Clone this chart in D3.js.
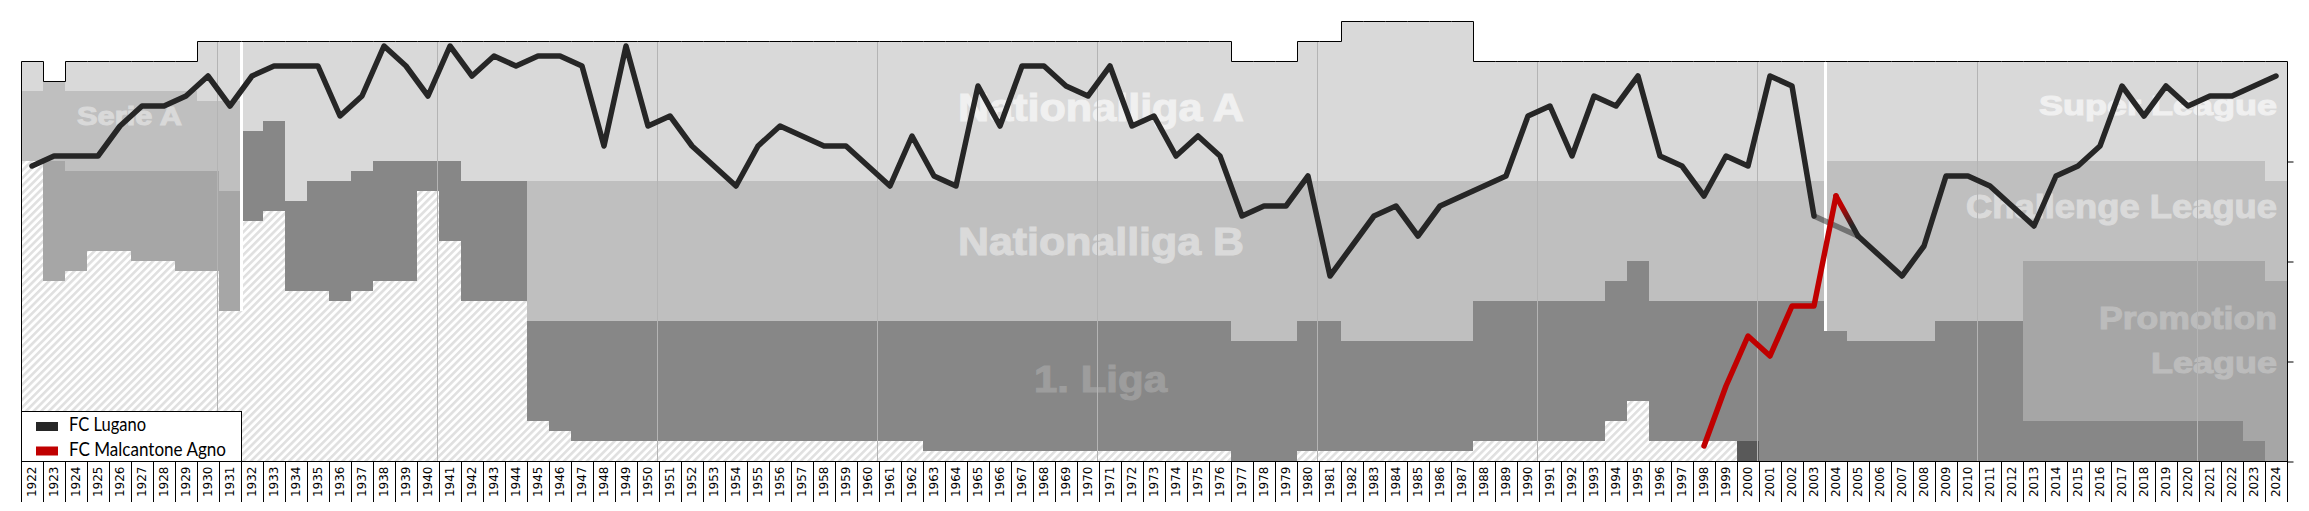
<!DOCTYPE html>
<html>
<head>
<meta charset="utf-8">
<script src="https://cdn.jsdelivr.net/npm/d3@7"></script>
<style>
  body { margin: 0; background: #fff; }
  svg { display: block; }
</style>
</head>
<body>
<script>
// seasons on the x axis (season ending in that year)
var years = d3.range(1922, 2025);

// FC Lugano: place counted from the top row of the chart
// (all leagues stacked, so 2nd in the top league with 4 empty rows above = 6)
var luganoRank = [15, 14, 14, 14, 11, 9, 9, 8, 6, 9,    // 1922-1931
    6, 5, 5, 5, 10, 8, 3, 5, 8, 3,                       // 1932-1941
    6, 4, 5, 4, 4, 5, 13, 3, 11, 10,                     // 1942-1951
    13, 15, 17, 13, 11, 12, 13, 13, 15, 17,              // 1952-1961
    12, 16, 17, 7, 11, 5, 5, 7, 8, 5,                    // 1962-1971
    11, 10, 14, 12, 14, 20, 19, 19, 16, 26,              // 1972-1981
    23, 20, 19, 22, 19, 18, 17, 16, 10, 9,               // 1982-1991
    14, 8, 9, 6, 14, 15, 18, 14, 15, 6,                  // 1992-2001
    7, 20, null, 22, 24, 26, 23, 16, 16, 17,             // 2002-2011
    19, 21, 16, 15, 13, 7, 10, 7, 9, 8,                  // 2012-2021
    8, 7, 6];                                            // 2022-2024

// FC Malcantone Agno
var agnoYears = [1998, 1999, 2000, 2001, 2002, 2003, 2004];
var agnoRank = [43, 37, 32, 34, 29, 29, 18];

// league structure, one entry per period where it stays the same
// first row of the top league and the clubs per division, top to bottom
// A = top league, B = second league, P = Serie Promotion / Promotion League,
// L = 1. Liga, D = lower regional group
var periodFrom = [1922, 1923, 1924, 1925, 1927, 1929, 1930, 1931,
    1932, 1933, 1934, 1935, 1936, 1937, 1938, 1940, 1941, 1942,
    1945, 1946, 1947, 1963, 1977, 1980, 1982,
    1988, 1994, 1995, 1996, 2000, 2001,
    2004, 2005, 2009, 2013, 2023, 2024];
var periodFirstRow = [4, 6, 4, 4, 4, 4, 2, 2,
    2, 2, 2, 2, 2, 2, 2, 2, 2, 2,
    2, 2, 2, 2, 4, 2, 0,
    4, 4, 4, 4, 4, 4,
    4, 4, 4, 4, 4, 4];
var periodLeagues = [
    "A3 B7", "B8 P12", "A3 B8 P10", "A3 B8 P8", "A3 B8 P9", "A3 B8 P10", "A6 B7 P10", "A6 B9 P12",
    "A9 L9", "A8 L9", "A16 L9", "A14 L11", "A14 L12", "A13 L12", "A12 L12", "A12 L3", "A12 L8", "A14 L12",
    "A14 B14 L10", "A14 B14 L11", "A14 B14 L12", "A14 B14 L13", "A12 B16 L12", "A14 B14 L13", "A16 B16 L11",
    "A12 B12 L14", "A12 B10 L14", "A12 B8 L14", "A12 B12 L14", "A12 B12 L14 D2", "A12 B12 L16",
    "A10 B17 L13", "A10 B18 L12", "A10 B16 L14", "A10 B10 P16 L4", "A10 B10 P18 L2", "A12 B10 P18"];

// league restructurings (white separator) and how deep they reach
var breakYears = [1932, 2004];
var breakDepth = [29, 31];

var leagueNames = ["Serie A", "Nationalliga A", "Nationalliga B", "1. Liga",
    "Super League", "Challenge League", "Promotion", "League"];
var seriesNames = ["FC Lugano", "FC Malcantone Agno"];
var rankTicks = [14, 24, 34, 44];

var W = 2309, H = 511;
var colors = {A: "#d9d9d9", B: "#bfbfbf", P: "#a6a6a6", L: "#878787", D: "#595959"};

var x = d3.scaleBand().domain(years).range([21, 2287]);
var y = d3.scaleLinear().domain([0, 44]).range([21, 461]);

var svg = d3.select("body").append("svg")
    .attr("width", W)
    .attr("height", H);

var defs = svg.append("defs");
var hatch = defs.append("pattern")
    .attr("id", "hatch")
    .attr("patternUnits", "userSpaceOnUse")
    .attr("width", 5.4)
    .attr("height", 5.4)
    .attr("patternTransform", "rotate(45)");
hatch.append("rect").attr("width", 5.4).attr("height", 5.4).attr("fill", "#fff");
hatch.append("rect").attr("width", 2.6).attr("height", 5.4).attr("fill", "#e0e0e0");

// work out the bands of every season
var seasons = years.map(function(yr) {
    var p = d3.bisectRight(periodFrom, yr) - 1;
    var row = periodFirstRow[p];
    var bands = periodLeagues[p].split(" ").map(function(s) {
        var n = +s.slice(1);
        var b = {key: s[0], from: row, to: row + n};
        row += n;
        return b;
    });
    return {year: yr, top: periodFirstRow[p], bands: bands};
});

// lower leagues: hatched
svg.append("g").selectAll("rect")
    .data(seasons)
    .enter()
    .append("rect")
    .attr("x", function(d) { return x(d.year); })
    .attr("width", x.bandwidth())
    .attr("y", function(d) { return y(d.top); })
    .attr("height", function(d) { return y(44) - y(d.top); })
    .attr("fill", "url(#hatch)")
    .attr("shape-rendering", "crispEdges");

var bandData = [];
seasons.forEach(function(s) {
    s.bands.forEach(function(b) {
        bandData.push({year: s.year, key: b.key, from: b.from, to: Math.min(b.to, 44)});
    });
});

svg.append("g").selectAll("rect")
    .data(bandData)
    .enter()
    .append("rect")
    .attr("x", function(d) { return x(d.year); })
    .attr("width", x.bandwidth())
    .attr("y", function(d) { return y(d.from); })
    .attr("height", function(d) { return y(d.to) - y(d.from); })
    .attr("fill", function(d) { return colors[d.key]; })
    .attr("shape-rendering", "crispEdges");

// league names
var labelStyle = [
    {x: 77, w: 105, y: 125, size: 25.6, fill: "#d9d9d9"},
    {x: 958, w: 286, y: 120.7, size: 38, fill: "#f0f0f0"},
    {x: 958, w: 286, y: 255, size: 38, fill: "#dadada"},
    {x: 1034, w: 133, y: 391.7, size: 37, fill: "#9d9d9d"},
    {x: 2039, w: 238, y: 115, size: 28, fill: "#f0f0f0"},
    {x: 1966, w: 311, y: 218.3, size: 32.5, fill: "#dadada"},
    {x: 2099, w: 178, y: 329, size: 31, fill: "#bcbcbc"},
    {x: 2151, w: 126, y: 373.3, size: 30, fill: "#bcbcbc"}
];
svg.append("g").selectAll("text")
    .data(leagueNames)
    .enter()
    .append("text")
    .attr("x", function(d, i) { return labelStyle[i].x; })
    .attr("y", function(d, i) { return labelStyle[i].y; })
    .attr("textLength", function(d, i) { return labelStyle[i].w; })
    .attr("lengthAdjust", "spacingAndGlyphs")
    .style("font-family", "'Liberation Sans', Arial, sans-serif")
    .style("font-weight", "bold")
    .style("font-size", function(d, i) { return labelStyle[i].size + "px"; })
    .style("fill", function(d, i) { return labelStyle[i].fill; })
    .style("stroke", function(d, i) { return labelStyle[i].fill; })
    .style("stroke-width", 1.1)
    .text(function(d) { return d; });

// decade grid lines
var gridYears = years.filter(function(yr) { return yr % 10 == 1 && yr > 1922; });
svg.append("g").selectAll("line")
    .data(gridYears)
    .enter()
    .append("line")
    .attr("x1", function(d) { return x(d) - 1.5; })
    .attr("x2", function(d) { return x(d) - 1.5; })
    .attr("y1", function(d) { return y(seasons[d - 1922].top); })
    .attr("y2", y(44))
    .style("stroke", "#b4b4b4")
    .style("stroke-width", 1);

// restructuring separators
svg.append("g").selectAll("rect")
    .data(breakYears)
    .enter()
    .append("rect")
    .attr("x", function(d) { return x(d) - 1; })
    .attr("width", 3)
    .attr("y", function(d) { return y(seasons[d - 1922].top); })
    .attr("height", function(d, i) { return y(breakDepth[i]) - y(seasons[d - 1922].top); })
    .attr("fill", "#fff");

// position lines
var cx = function(yr) { return x(yr) + x.bandwidth() / 2; };
var cy = function(r) { return y(r - 0.5); };

var lugano = years.map(function(yr, i) { return {year: yr, rank: luganoRank[i]}; });
var agno = agnoYears.map(function(yr, i) { return {year: yr, rank: agnoRank[i]}; });

var line = d3.line()
    .defined(function(d) { return d.rank != null; })
    .x(function(d) { return cx(d.year); })
    .y(function(d) { return cy(d.rank); });

var lineWidth = 5.5;

// 2003 -> 2005 link across the merger
svg.append("line")
    .attr("x1", cx(2003)).attr("y1", cy(luganoRank[2003 - 1922]))
    .attr("x2", cx(2005)).attr("y2", cy(luganoRank[2005 - 1922]))
    .style("stroke", "#262626")
    .style("stroke-opacity", 0.5)
    .style("stroke-width", lineWidth);

var grad = defs.append("linearGradient")
    .attr("id", "merge")
    .attr("gradientUnits", "userSpaceOnUse")
    .attr("x1", cx(2004)).attr("y1", cy(agnoRank[6]))
    .attr("x2", cx(2005)).attr("y2", cy(luganoRank[2005 - 1922]));
grad.append("stop").attr("offset", 0.25).attr("stop-color", "#c00000");
grad.append("stop").attr("offset", 0.75).attr("stop-color", "#262626");

svg.append("path")
    .datum(lugano)
    .attr("d", line)
    .style("fill", "none")
    .style("stroke", "#262626")
    .style("stroke-width", lineWidth)
    .style("stroke-linejoin", "round")
    .style("stroke-linecap", "round");

svg.append("line")
    .attr("x1", cx(2004)).attr("y1", cy(agnoRank[6]))
    .attr("x2", cx(2005)).attr("y2", cy(luganoRank[2005 - 1922]))
    .style("stroke", "url(#merge)")
    .style("stroke-width", lineWidth)
    .style("stroke-linecap", "round");

svg.append("path")
    .datum(agno)
    .attr("d", line)
    .style("fill", "none")
    .style("stroke", "#c00000")
    .style("stroke-width", lineWidth)
    .style("stroke-linejoin", "round")
    .style("stroke-linecap", "round");

// outline: left border, stepped top, right border
var outline = "M" + (x(1922) + 0.5) + "," + y(44);
seasons.forEach(function(s) {
    outline += "L" + (x(s.year) + 0.5) + "," + (y(s.top) + 0.5)
        + "L" + (x(s.year) + x.bandwidth() + 0.5) + "," + (y(s.top) + 0.5);
});
outline += "L" + (x(2024) + x.bandwidth() + 0.5) + "," + y(44);
svg.append("path")
    .attr("d", outline)
    .style("fill", "none")
    .style("stroke", "#000")
    .style("stroke-width", 1);

// right hand ticks
svg.append("g")
    .attr("transform", "translate(" + (x(2024) + x.bandwidth() + 0.5) + ",0.5)")
    .call(d3.axisRight(y).tickValues(rankTicks).tickFormat("").tickSize(6))
    .call(function(g) { g.select(".domain").remove(); });

// year axis
var xAxis = svg.append("g")
    .attr("transform", "translate(0," + (y(44) + 0.5) + ")")
    .call(d3.axisBottom(x).tickSize(0).tickPadding(0));
xAxis.select(".domain").attr("d", "M" + x(1922) + ",0H" + (x(2024) + x.bandwidth() + 1));
xAxis.selectAll("text")
    .attr("transform", "translate(0,5) rotate(-90)")
    .attr("x", 0).attr("y", 0).attr("dy", "0.36em")
    .style("text-anchor", "end")
    .style("font-family", "'DejaVu Sans', Verdana, sans-serif")
    .style("font-size", "12px")
    .style("fill", "#000");

svg.append("g").selectAll("line")
    .data(years.concat([2025]))
    .enter()
    .append("line")
    .attr("x1", function(d) { return 21.5 + (d - 1922) * x.bandwidth(); })
    .attr("x2", function(d) { return 21.5 + (d - 1922) * x.bandwidth(); })
    .attr("y1", y(44))
    .attr("y2", 502)
    .style("stroke", "#000")
    .style("stroke-width", 1);

// legend
var legend = svg.append("g");
legend.append("rect")
    .attr("x", 21.5).attr("y", 411.5)
    .attr("width", 220).attr("height", 50)
    .style("fill", "#fff")
    .style("stroke", "#000");
var swatch = ["#262626", "#c00000"];
var legendTextWidth = [77, 157];
seriesNames.forEach(function(name, i) {
    legend.append("rect")
        .attr("x", 36).attr("y", 422 + i * 24.5)
        .attr("width", 22).attr("height", 9)
        .style("fill", swatch[i]);
    legend.append("text")
        .attr("x", 69).attr("y", 431 + i * 25)
        .attr("textLength", legendTextWidth[i])
        .attr("lengthAdjust", "spacingAndGlyphs")
        .style("font-family", "Lato, 'Open Sans', sans-serif")
        .style("font-size", "18.5px")
        .style("fill", "#000")
        .text(name);
});
</script>
</body>
</html>
